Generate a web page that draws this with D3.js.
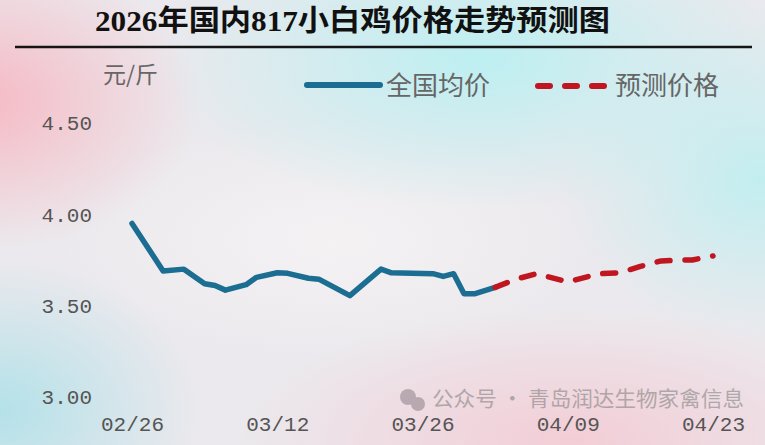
<!DOCTYPE html>
<html><head><meta charset="utf-8">
<script src="https://cdn.jsdelivr.net/npm/d3@7"></script>
<style>html,body{margin:0;padding:0;overflow:hidden;background:#eee;}</style>
</head><body>
<svg id="c" width="765" height="445"></svg>
<script>
const titleText = "2026年国内817小白鸡价格走势预测图";
const unitText = "元/斤";
const seriesNames = ["全国均价", "预测价格"];
const watermarkText = "公众号 · 青岛润达生物家禽信息";

const actualDates = ["2026-02-26","2026-03-01","2026-03-03","2026-03-05","2026-03-06","2026-03-07","2026-03-09","2026-03-10","2026-03-12","2026-03-13","2026-03-15","2026-03-16","2026-03-19","2026-03-22","2026-03-23","2026-03-27","2026-03-28","2026-03-29","2026-03-30","2026-03-31","2026-04-02"];
const actualValues = [3.95,3.69,3.70,3.62,3.61,3.585,3.615,3.655,3.68,3.677,3.65,3.645,3.555,3.70,3.68,3.675,3.66,3.675,3.565,3.565,3.60];

const forecastDates = ["2026-04-02","2026-04-04","2026-04-06","2026-04-09","2026-04-12","2026-04-14","2026-04-16","2026-04-18","2026-04-20","2026-04-21","2026-04-23"];
const forecastValues = [3.60,3.645,3.675,3.63,3.675,3.68,3.715,3.745,3.75,3.75,3.772];

const xTickDates = ["2026-02-26","2026-03-12","2026-03-26","2026-04-09","2026-04-23"];
const yTickValues = [3.00, 3.50, 4.00, 4.50];

const W = 765, H = 445;
const svg = d3.select("#c");
const parse = d3.utcParse("%Y-%m-%d");

// background
const defs = svg.append("defs");
function radial(id, color, op) {
  const g = defs.append("radialGradient").attr("id", id);
  g.append("stop").attr("offset", "0%").attr("stop-color", color).attr("stop-opacity", op);
  g.append("stop").attr("offset", "100%").attr("stop-color", color).attr("stop-opacity", 0);
}
radial("gPinkL", "#f6b9c4", 1);
radial("gCyanT", "#bdeff1", 1);
radial("gCyanR", "#c2eef0", 1);
radial("gCyanBL", "#b4e1e9", 1);
radial("gPinkB", "#f3cdd6", 1);
radial("gWhite", "#f4f2f3", 1);
svg.append("rect").attr("width", W).attr("height", H).attr("fill", "#ebe9ed");
const blobs = [
  ["gPinkB", 570, 440, 330, 130],
  ["gWhite", 330, 240, 270, 120],
  ["gCyanT", 480, 60, 330, 150],
  ["gCyanR", 760, 180, 200, 160],
  ["gPinkL", -20, 100, 220, 150],
  ["gCyanBL", 0, 410, 200, 150]
];
blobs.forEach(([id, cx, cy, rx, ry]) => {
  svg.append("ellipse").attr("cx", cx).attr("cy", cy).attr("rx", rx).attr("ry", ry)
    .attr("fill", `url(#${id})`);
});

// title
svg.append("text").attr("x", 95).attr("y", 31)
  .attr("font-family", "'Liberation Serif','Noto Sans CJK SC',serif")
  .attr("font-weight", 700).attr("font-size", 29).attr("fill", "#111")
  .attr("textLength", 515).attr("lengthAdjust", "spacingAndGlyphs")
  .text(titleText);
svg.append("line").attr("x1", 15).attr("x2", 752).attr("y1", 47).attr("y2", 47)
  .attr("stroke", "#151515").attr("stroke-width", 2.5);

// unit
svg.append("text").attr("x", 103).attr("y", 83)
  .attr("font-family", "'Noto Sans CJK SC',sans-serif").attr("font-size", 23)
  .attr("fill", "#666").text(unitText);

// scales
const x = d3.scaleUtc().domain([parse("2026-02-26"), parse("2026-04-23")]).range([132, 713]);
const y = d3.scaleLinear().domain([3, 4.5]).range([397, 123]);

// axes
const yAxis = svg.append("g").attr("transform", "translate(100,0)")
  .call(d3.axisLeft(y).tickValues(yTickValues).tickSize(0).tickPadding(8).tickFormat(d3.format(".2f")));
yAxis.select(".domain").remove();
yAxis.selectAll("text").attr("font-family", "'Liberation Mono',monospace").attr("font-size", 21).attr("fill", "#555");

// watermark (behind x labels)
const wm = svg.append("g").attr("opacity", 0.55);
wm.append("circle").attr("cx", 408).attr("cy", 397).attr("r", 8).attr("fill", "#8c8088");
wm.append("circle").attr("cx", 418).attr("cy", 404).attr("r", 7).attr("fill", "#8c8088");
wm.append("text").attr("x", 432).attr("y", 406)
  .attr("font-family", "'Noto Sans CJK SC',sans-serif").attr("font-size", 21)
  .attr("fill", "#7d7d7d").attr("textLength", 312).attr("lengthAdjust", "spacingAndGlyphs")
  .text(watermarkText);

const xAxis = svg.append("g").attr("transform", "translate(0,407)")
  .call(d3.axisBottom(x).tickValues(xTickDates.map(parse)).tickSize(0).tickPadding(9).tickFormat(d3.utcFormat("%m/%d")));
xAxis.select(".domain").remove();
xAxis.selectAll("text").attr("font-family", "'Liberation Mono',monospace").attr("font-size", 21).attr("fill", "#555");

// lines
const line = d3.line().x(d => x(d[0])).y(d => y(d[1]));
const actual = actualDates.map((d, i) => [parse(d), actualValues[i]]);
const forecast = forecastDates.map((d, i) => [parse(d), forecastValues[i]]);

const blue = "#1b6d91", red = "#bf1620";
svg.append("path").datum(actual).attr("d", line).attr("fill", "none")
  .attr("stroke", blue).attr("stroke-width", 5.5).attr("stroke-linejoin", "round").attr("stroke-linecap", "round");
svg.append("path").datum(forecast).attr("d", line).attr("fill", "none")
  .attr("stroke", red).attr("stroke-width", 5.5).attr("stroke-linejoin", "round").attr("stroke-linecap", "round")
  .attr("stroke-dasharray", "13,15");

// legend
svg.append("line").attr("x1", 307).attr("x2", 380).attr("y1", 85).attr("y2", 85)
  .attr("stroke", blue).attr("stroke-width", 6).attr("stroke-linecap", "round");
svg.append("text").attr("x", 386).attr("y", 95)
  .attr("font-family", "'Noto Sans CJK SC',sans-serif").attr("font-size", 26).attr("fill", "#666")
  .text(seriesNames[0]);
svg.append("line").attr("x1", 538).attr("x2", 605).attr("y1", 86).attr("y2", 86)
  .attr("stroke", red).attr("stroke-width", 6).attr("stroke-linecap", "round")
  .attr("stroke-dasharray", "12,15");
svg.append("text").attr("x", 615).attr("y", 95)
  .attr("font-family", "'Noto Sans CJK SC',sans-serif").attr("font-size", 26).attr("fill", "#666")
  .text(seriesNames[1]);
</script>
</body></html>
